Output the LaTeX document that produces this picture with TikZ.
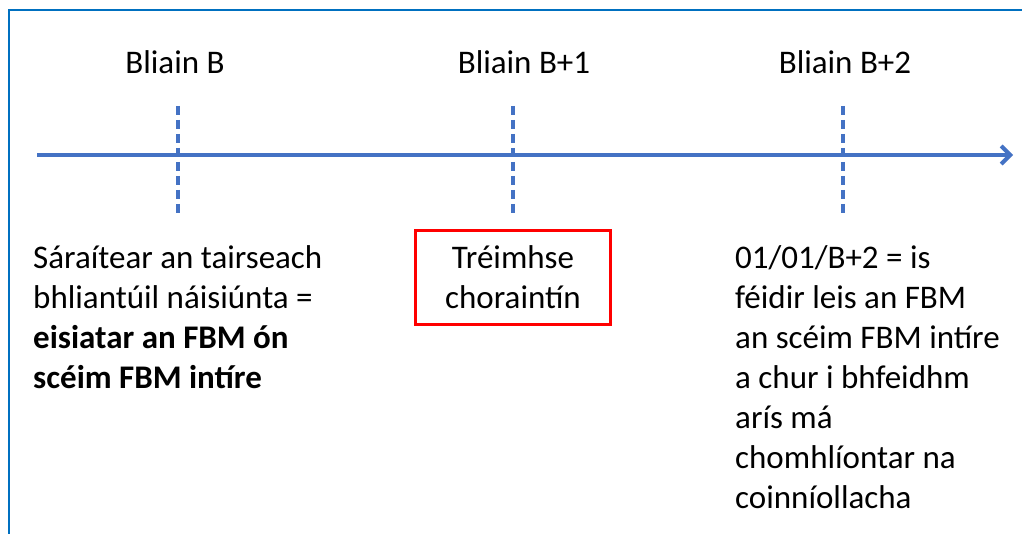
\documentclass[tikz,border=0pt]{standalone}
\usepackage{fontspec}
\setmainfont{Carlito}
\usetikzlibrary{arrows.meta}
\definecolor{axisblue}{RGB}{68,114,196}
\definecolor{framecol}{RGB}{0,112,192}
\begin{document}
\begin{tikzpicture}[x=1pt,y=-1pt,
  txt/.style={font=\fontsize{33}{40}\selectfont, inner sep=0pt, align=left},
  yearlbl/.style={font=\fontsize{33}{40}\selectfont, inner sep=0pt},
  tick/.style={axisblue, line width=3.5pt, dash pattern=on 9pt off 5pt},
  axisline/.style={axisblue, line width=4pt, -{Straight Barb[length=9pt,width=18pt,line width=4pt]}},
  quar/.style={draw=red, line width=3pt, inner sep=0pt, minimum width=195pt, minimum height=94pt, align=center, font=\fontsize{33}{40}\selectfont}]
\useasboundingbox (0,0) rectangle (1022,534);
\fill[white] (0,0) rectangle (1022,534);
\draw[framecol, line width=2pt] (8.5,534) -- (8.5,10.5) -- (1022,10.5);
\coordinate (a0) at (37,155);
\coordinate (a1) at (1013,155);
\draw[axisline] (a0) -- (a1);
\coordinate (t1a) at (178,106); \coordinate (t1b) at (178,215);
\coordinate (t2a) at (513,106); \coordinate (t2b) at (513,215);
\coordinate (t3a) at (843,106); \coordinate (t3b) at (843,215);
\draw[tick] (t1a) -- (t1b);
\draw[tick] (t2a) -- (t2b);
\draw[tick] (t3a) -- (t3b);
\node[yearlbl] (y1) at (175,62) {Bliain B};
\node[yearlbl] (y2) at (524,62) {Bliain B+1};
\node[yearlbl] (y3) at (845,62) {Bliain B+2};
\node[txt, anchor=north west] (left) at (33,245) {Sáraítear an tairseach\\bhliantúil náisiúnta =\\\textbf{eisiatar an FBM ón}\\\textbf{scéim FBM intíre}};
\node[quar] (box) at (513,277.5) {Tréimhse\\choraintín};
\node[txt, anchor=north west] (right) at (735,245) {01/01/B+2 = is\\féidir leis an FBM\\an scéim FBM intíre\\a chur i bhfeidhm\\arís má\\chomhlíontar na\\coinníollacha};
\end{tikzpicture}
\end{document}
